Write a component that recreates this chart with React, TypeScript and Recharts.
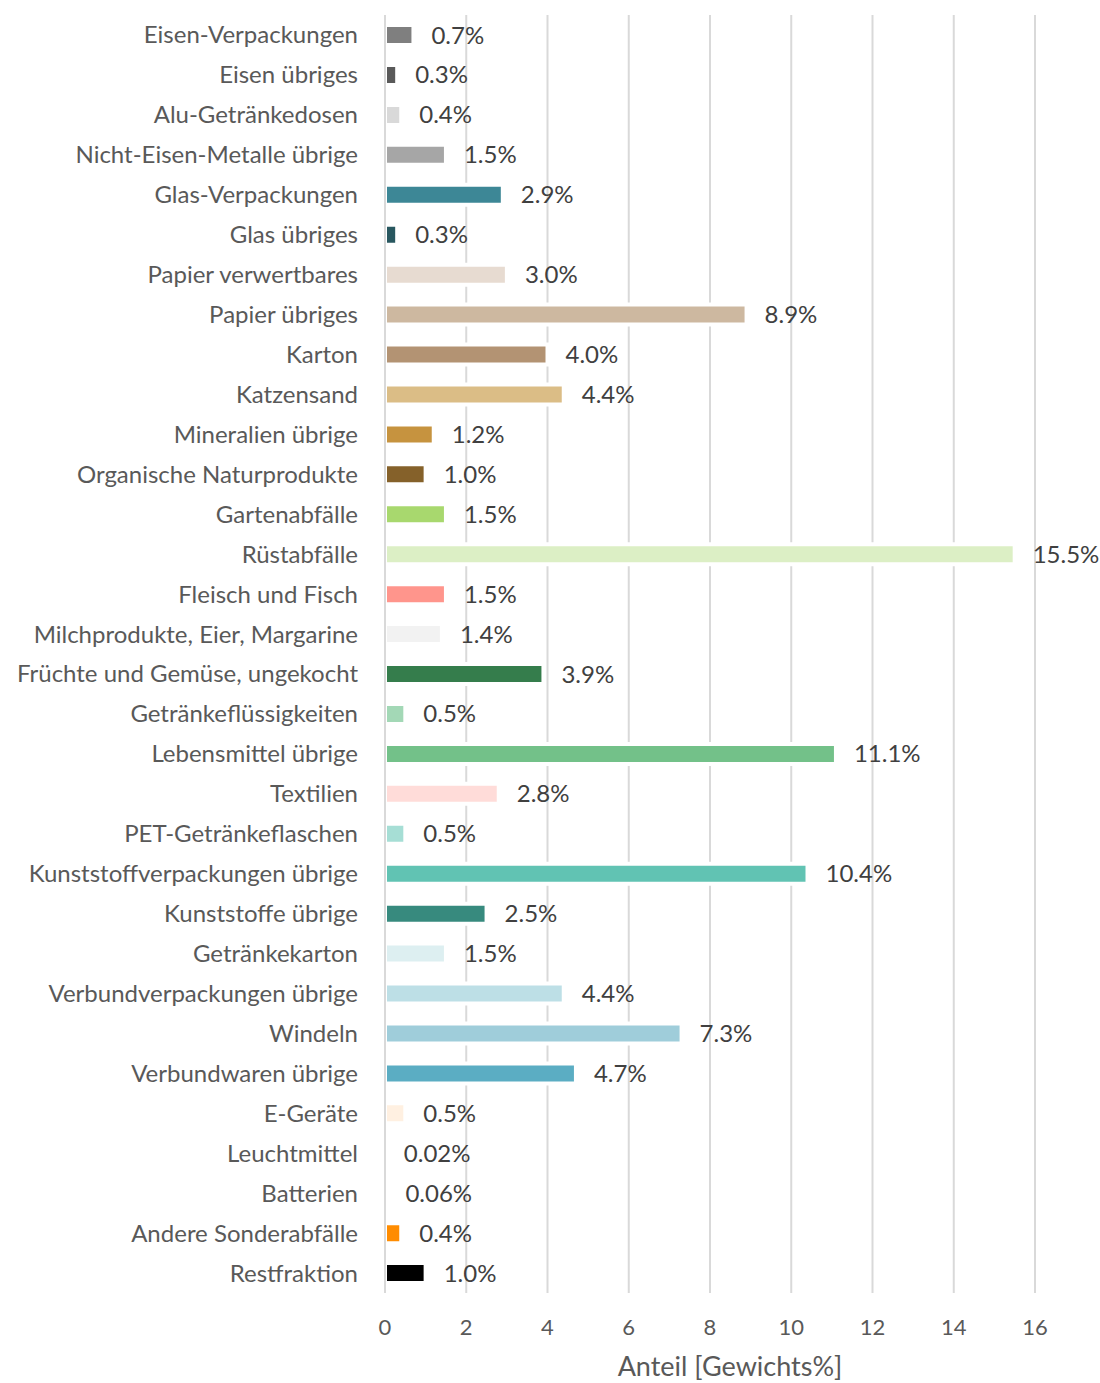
import React from 'react';
import { BarChart, Bar, XAxis, YAxis, CartesianGrid, Cell, LabelList, Label } from 'recharts';

const categories = [
  'Eisen-Verpackungen',
  'Eisen übriges',
  'Alu-Getränkedosen',
  'Nicht-Eisen-Metalle übrige',
  'Glas-Verpackungen',
  'Glas übriges',
  'Papier verwertbares',
  'Papier übriges',
  'Karton',
  'Katzensand',
  'Mineralien übrige',
  'Organische Naturprodukte',
  'Gartenabfälle',
  'Rüstabfälle',
  'Fleisch und Fisch',
  'Milchprodukte, Eier, Margarine',
  'Früchte und Gemüse, ungekocht',
  'Getränkeflüssigkeiten',
  'Lebensmittel übrige',
  'Textilien',
  'PET-Getränkeflaschen',
  'Kunststoffverpackungen übrige',
  'Kunststoffe übrige',
  'Getränkekarton',
  'Verbundverpackungen übrige',
  'Windeln',
  'Verbundwaren übrige',
  'E-Geräte',
  'Leuchtmittel',
  'Batterien',
  'Andere Sonderabfälle',
  'Restfraktion',
];

const shares = [
  0.7, 0.3, 0.4, 1.5, 2.9, 0.3, 3.0, 8.9, 4.0, 4.4, 1.2, 1.0, 1.5, 15.5, 1.5, 1.4,
  3.9, 0.5, 11.1, 2.8, 0.5, 10.4, 2.5, 1.5, 4.4, 7.3, 4.7, 0.5, 0.02, 0.06, 0.4, 1.0,
];

const colors = [
  '#7f7f7f', '#595959', '#d9d9d9', '#a6a6a6', '#3d8796', '#28575f', '#e7dbd1', '#cdb8a0',
  '#b39373', '#dbbd86', '#c6933f', '#85612a', '#a8d86e', '#dcefc5', '#ff958c', '#f2f2f2',
  '#357d4c', '#a3d8b6', '#73c189', '#ffdcd9', '#a6ded5', '#61c3b3', '#378a7e', '#ddeff1',
  '#bddfe6', '#9fcdda', '#5badc3', '#fff0e1', '#fafafa', '#fafafa', '#ff8c00', '#000000',
];

const xTicks = [0, 2, 4, 6, 8, 10, 12, 14, 16];

const data = categories.map((name, i) => ({ name, value: shares[i] }));

const fmt = (v: number) => (v < 0.1 ? v.toFixed(2) : v.toFixed(1)) + '%';

const FONT = 'Lato, "Open Sans", sans-serif';

export default function App() {
  return (
    <div style={{ position: 'absolute', left: 0, top: 0, width: 1100, height: 1383, background: '#fff' }}>
      <BarChart
        width={1100}
        height={1383}
        data={data}
        layout="vertical"
        margin={{ top: 15, right: 65, bottom: 0, left: 0 }}
        barCategoryGap={0}
      >
        <CartesianGrid horizontal={false} stroke="#d9d9d9" strokeWidth={2} />
        <XAxis
          type="number"
          domain={[0, 16]}
          ticks={xTicks}
          axisLine={false}
          tickLine={false}
          tickSize={0}
          tickMargin={26}
          height={90}
          tick={{ fill: '#595959', fontSize: 22, fontFamily: FONT }}
        >
          <Label
            content={({ viewBox }: any) => (
              <text
                x={viewBox.x + viewBox.width / 2 + 20}
                y={viewBox.y + viewBox.height - 7}
                textAnchor="middle"
                fill="#595959"
                fontSize={27}
                fontFamily={FONT}
              >
                Anteil [Gewichts%]
              </text>
            )}
          />
        </XAxis>
        <YAxis
          type="category"
          dataKey="name"
          width={385}
          axisLine={{ stroke: '#d9d9d9', strokeWidth: 2 }}
          tickLine={false}
          tickSize={0}
          tickMargin={27}
          interval={0}
          tick={{ fill: '#595959', fontSize: 24, fontFamily: FONT }}
        />
        <Bar dataKey="value" barSize={20} stroke="#ffffff" strokeWidth={4} isAnimationActive={false}>
          {data.map((d, i) => (
            <Cell key={d.name} fill={colors[i]} />
          ))}
          <LabelList
            dataKey="value"
            position="right"
            offset={18}
            formatter={(v: any) => fmt(Number(v))}
            style={{ fill: '#404040', fontSize: 24, fontFamily: FONT }}
          />
        </Bar>
      </BarChart>
    </div>
  );
}
